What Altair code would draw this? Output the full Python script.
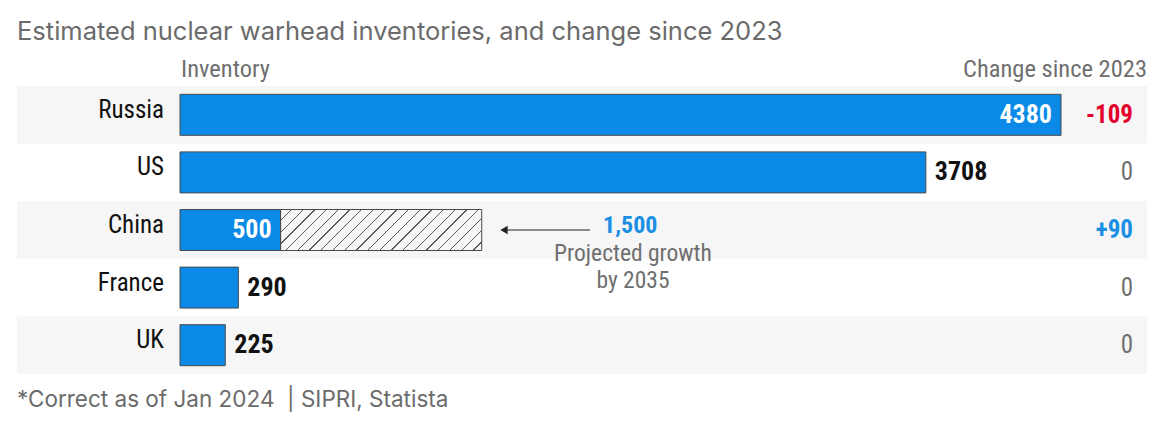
import altair as alt
import pandas as pd

countries = ["Russia", "US", "China", "France", "UK"]
inventory = [4380, 3708, 500, 290, 225]
label_inside = [True, False, True, False, False]
change_labels = ["-109", "0", "+90", "0", "0"]
change_kind = ["neg", "zero", "pos", "zero", "zero"]
shaded_rows = ["Russia", "China", "UK"]
projected_country = "China"
projected_value = 1500
projected_text = "1,500"
projected_note = ["Projected growth", "by 2035"]

title_text = "Estimated nuclear warhead inventories, and change since 2023"
left_header = "Inventory"
right_header = "Change since 2023"
footer_text = "*Correct as of Jan 2024\u00a0\u00a0| SIPRI, Statista"

W, H = 1130, 288
BLUE = "#0a8ae6"
LABEL_FONT = "'Roboto Condensed', 'Liberation Sans Narrow', 'DejaVu Sans Condensed', Roboto, sans-serif"
TITLE_FONT = "Inter, 'Liberation Sans', Arial, sans-serif"

df = pd.DataFrame({
    "country": countries,
    "inventory": inventory,
    "inside": label_inside,
    "change": change_labels,
    "kind": change_kind,
})
df["label"] = df["inventory"].astype(str)

yscale = alt.Scale(type="band", domain=countries, paddingInner=0, paddingOuter=0)
xscale = alt.Scale(domain=[0, 4380], range=[163, 1044], zero=True)
Y = alt.Y("country:N", scale=yscale, axis=None)

bg = alt.Chart(pd.DataFrame({"country": shaded_rows})).mark_rect(color="#f6f6f6").encode(
    y=Y, x=alt.value(0), x2=alt.value(W)
)

# hatch pattern as a striped gradient
bw = (projected_value - 500) * 881 / 4380
bh = 41
k = (bw + bh) / (bw * bw + bh * bh)
period = 11.7 / (bw + bh)
lw = 1.3 / (bw + bh)
stops = []
o = 0.0
while o < 1.0:
    stops.append(alt.GradientStop(offset=min(o, 1), color="#f7f7f7"))
    stops.append(alt.GradientStop(offset=min(o + period - lw, 1), color="#f7f7f7"))
    stops.append(alt.GradientStop(offset=min(o + period - lw, 1), color="#5a5a5a"))
    stops.append(alt.GradientStop(offset=min(o + period, 1), color="#5a5a5a"))
    o += period
grad = alt.LinearGradient(gradient="linear", stops=stops, x1=0, y1=0, x2=k * bw, y2=k * bh)

proj_df = pd.DataFrame({"country": [projected_country],
                        "start": [inventory[countries.index(projected_country)]],
                        "end": [projected_value]})
hatch = alt.Chart(proj_df).mark_bar(height=bh, fill=grad, stroke="#4a4a4a", strokeWidth=1).encode(
    y=Y, x=alt.X("start:Q", scale=xscale, axis=None), x2="end:Q"
)

bars = alt.Chart(df).mark_bar(height=bh, color=BLUE, stroke="#4a4a4a", strokeWidth=1).encode(
    y=Y, x=alt.X("inventory:Q", scale=xscale, axis=None)
)

names = alt.Chart(df).mark_text(align="right", baseline="middle", dy=-5, font=LABEL_FONT,
                                fontSize=25, color="#111111").encode(
    y=Y, x=alt.value(147), text="country:N"
)

val_in = alt.Chart(df).transform_filter("datum.inside").mark_text(
    align="right", baseline="middle", dx=-9, font=LABEL_FONT, fontSize=26,
    fontWeight="bold", color="white").encode(
    y=Y, x=alt.X("inventory:Q", scale=xscale), text="label:N"
)
val_out = alt.Chart(df).transform_filter("!datum.inside").mark_text(
    align="left", baseline="middle", dx=9, font=LABEL_FONT, fontSize=26,
    fontWeight="bold", color="#111111").encode(
    y=Y, x=alt.X("inventory:Q", scale=xscale), text="label:N"
)

chg_color = alt.Color("kind:N", scale=alt.Scale(domain=["neg", "zero", "pos"],
                                                range=["#e4002b", "#6f6f6f", "#1a8fe3"]), legend=None)
chg_bold = alt.Chart(df).transform_filter("datum.kind != 'zero'").mark_text(
    align="right", baseline="middle", font=LABEL_FONT, fontSize=25, fontWeight="bold").encode(
    y=Y, x=alt.value(1116), text="change:N", color=chg_color
)
chg_norm = alt.Chart(df).transform_filter("datum.kind == 'zero'").mark_text(
    align="right", baseline="middle", font=LABEL_FONT, fontSize=25).encode(
    y=Y, x=alt.value(1116), text="change:N", color=chg_color
)

one = pd.DataFrame({"a": [0]})
arrow = alt.Chart(one).mark_rule(color="#666666", strokeWidth=1.5).encode(
    x=alt.value(486), x2=alt.value(573), y=alt.value(144)
)
head = alt.Chart(one).mark_point(shape="triangle-left", filled=True, size=70, color="#222222", opacity=1).encode(
    x=alt.value(487), y=alt.value(144)
)
ann1 = alt.Chart(pd.DataFrame({"t": [projected_text]})).mark_text(
    align="left", baseline="middle", font=LABEL_FONT, fontSize=24, fontWeight="bold", color="#1a8fe3").encode(
    x=alt.value(586), y=alt.value(140), text="t:N"
)
ann2 = alt.Chart(pd.DataFrame({"t": [projected_note[0]]})).mark_text(
    align="center", baseline="middle", font=LABEL_FONT, fontSize=23.5, color="#6f6f6f").encode(
    x=alt.value(616), y=alt.value(168), text="t:N"
)
ann3 = alt.Chart(pd.DataFrame({"t": [projected_note[1]]})).mark_text(
    align="center", baseline="middle", font=LABEL_FONT, fontSize=23.5, color="#6f6f6f").encode(
    x=alt.value(616), y=alt.value(195), text="t:N"
)

title = alt.Chart(pd.DataFrame({"t": [title_text]})).mark_text(
    align="left", baseline="alphabetic", font=TITLE_FONT, fontSize=25.5, color="#6b6b6b").encode(
    x=alt.value(0), y=alt.value(-46), text="t:N"
)
hdr_l = alt.Chart(pd.DataFrame({"t": [left_header]})).mark_text(
    align="left", baseline="alphabetic", font=LABEL_FONT, fontSize=24.5, color="#6f6f6f").encode(
    x=alt.value(164), y=alt.value(-9), text="t:N"
)
hdr_r = alt.Chart(pd.DataFrame({"t": [right_header]})).mark_text(
    align="right", baseline="alphabetic", font=LABEL_FONT, fontSize=24.5, color="#6f6f6f").encode(
    x=alt.value(W), y=alt.value(-9), text="t:N"
)
footer = alt.Chart(pd.DataFrame({"t": [footer_text]})).mark_text(
    align="left", baseline="alphabetic", font=TITLE_FONT, fontSize=22.5, color="#6b6b6b").encode(
    x=alt.value(0), y=alt.value(321), text="t:N"
)

chart = alt.layer(
    bg, hatch, bars, names, val_in, val_out, chg_bold, chg_norm, arrow, head, ann1, ann2, ann3,
    title, hdr_l, hdr_r, footer
).properties(
    width=W, height=H,
    padding={"left": 9, "top": 78, "right": 14, "bottom": 52},
    autosize=alt.AutoSizeParams(type="none"),
).configure_view(stroke=None)

chart.save("out.html", embed_options={"renderer": "svg", "actions": False})
